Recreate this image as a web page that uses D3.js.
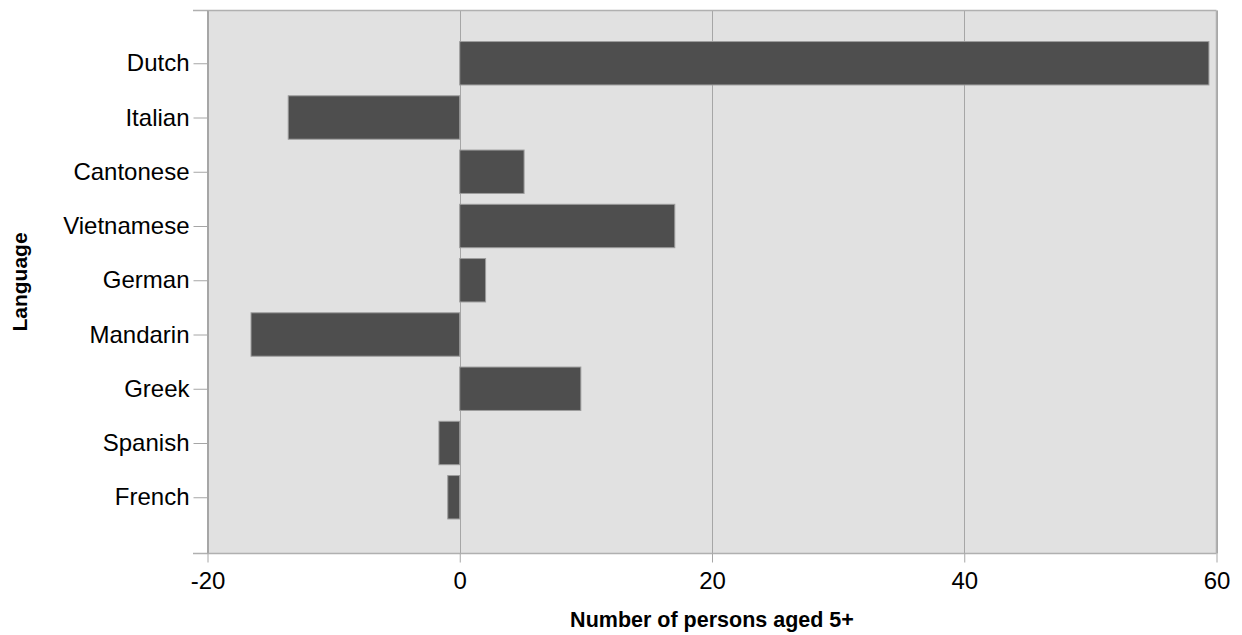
<!DOCTYPE html>
<html>
<head>
<meta charset="utf-8">
<script src="https://cdn.jsdelivr.net/npm/d3@7/dist/d3.min.js"></script>
<style>
  html, body { margin: 0; padding: 0; background: #ffffff; }
  svg { display: block; }
  text { font-family: "Liberation Sans", Arial, sans-serif; fill: #000; }
</style>
</head>
<body>
<svg id="chart" width="1242" height="635"></svg>
<script>
const categories = ["Dutch", "Italian", "Cantonese", "Vietnamese", "German", "Mandarin", "Greek", "Spanish", "French"];
const values = [59.4, -13.6, 5.1, 17.05, 2.05, -16.55, 9.6, -1.65, -0.95];
const xTicks = [-20, 0, 20, 40, 60];
const xTitle = "Number of persons aged 5+";
const yTitle = "Language";

(function () {
const svg = d3.select("#chart");
const pL = 207.5, pR = 1216.5, pT = 10.5, pB = 553.5;

const x = d3.scaleLinear().domain([-20, 60]).range([pL, pR]);
const y = d3.scalePoint().domain(categories).range([9, 551.5]).padding(1);
const barH = y.step() * 0.8;

// plot background
svg.append("rect")
  .attr("x", pL).attr("y", pT)
  .attr("width", pR - pL).attr("height", pB - pT)
  .attr("fill", "#e1e1e1");

// vertical gridlines
svg.append("g").selectAll("line").data(xTicks).join("line")
  .attr("x1", d => Math.round(x(d)) + 0.5).attr("x2", d => Math.round(x(d)) + 0.5)
  .attr("y1", pT).attr("y2", pB)
  .attr("stroke", "#a6a6a6").attr("stroke-width", 1);

// bars
svg.append("g").selectAll("rect").data(values).join("rect")
  .attr("x", d => x(Math.min(0, d)))
  .attr("width", d => Math.abs(x(d) - x(0)))
  .attr("y", (d, i) => y(categories[i]) - barH / 2)
  .attr("height", barH)
  .attr("fill", "#4e4e4e")
  .attr("stroke", "#9c9c9c").attr("stroke-width", 1);

// plot border lines
const bc = "#b0b0b0";
svg.append("line").attr("x1", 193).attr("x2", pR).attr("y1", pT).attr("y2", pT).attr("stroke", bc).attr("stroke-width", 1.5);
svg.append("line").attr("x1", 193).attr("x2", pR).attr("y1", pB).attr("y2", pB).attr("stroke", bc).attr("stroke-width", 1.5);
svg.append("line").attr("x1", pR).attr("x2", pR).attr("y1", pT).attr("y2", pB).attr("stroke", bc).attr("stroke-width", 1.5);

// x axis
const xAxis = d3.axisBottom(x).tickValues(xTicks).tickSize(9).tickPadding(9).tickFormat(d => String(d));
const gx = svg.append("g").attr("transform", `translate(0,${pB})`).call(xAxis);
gx.select(".domain").remove();
gx.selectAll(".tick line").attr("stroke", "#a6a6a6");
gx.selectAll(".tick text").attr("font-size", 24).attr("font-family", "Liberation Sans, Arial, sans-serif").attr("fill", "#000");

// y axis
const yAxis = d3.axisLeft(y).tickSize(14).tickPadding(4);
const gy = svg.append("g").attr("transform", `translate(${pL},0)`).call(yAxis);
gy.select(".domain").attr("stroke", "#a6a6a6").attr("d", `M0,${pT}V${pB}`);
gy.selectAll(".tick line").attr("stroke", "#a6a6a6");
gy.selectAll(".tick text").attr("font-size", 24).attr("font-family", "Liberation Sans, Arial, sans-serif").attr("fill", "#000");

// titles
svg.append("text")
  .attr("x", (pL + pR) / 2).attr("y", 627)
  .attr("text-anchor", "middle")
  .attr("font-size", 21.5).attr("font-weight", "bold")
  .text(xTitle);

svg.append("text")
  .attr("transform", `translate(27,${(pT + pB) / 2}) rotate(-90)`)
  .attr("text-anchor", "middle")
  .attr("font-size", 21).attr("font-weight", "bold")
  .text(yTitle);
})();
</script>
</body>
</html>
